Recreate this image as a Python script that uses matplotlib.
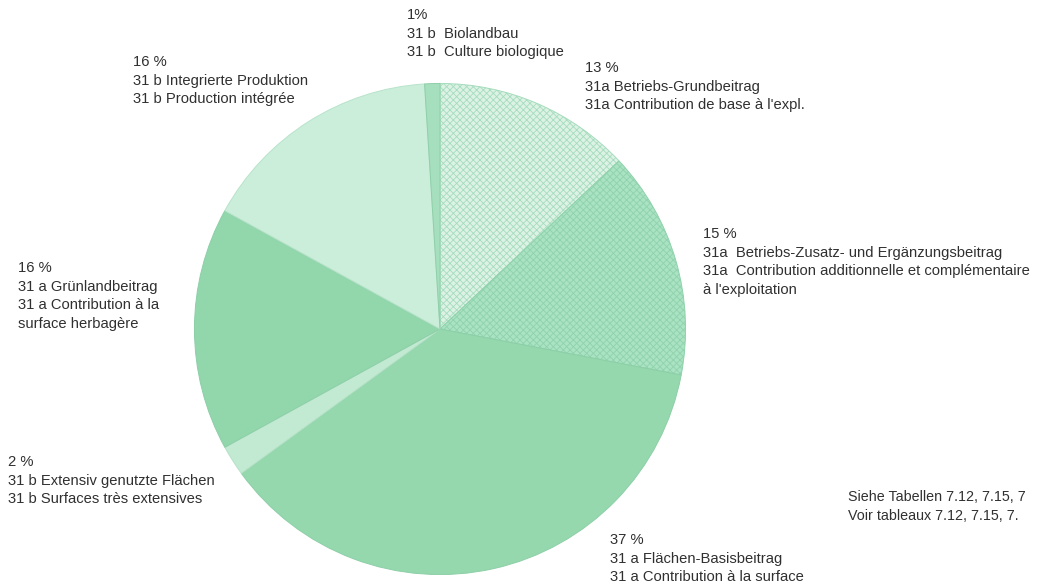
import matplotlib.pyplot as plt

plt.rcParams['font.family'] = ['Liberation Sans', 'DejaVu Sans']
plt.rcParams['hatch.linewidth'] = 0.6

# slice shares (clockwise from 12 o'clock)
shares = [13, 15, 37, 2, 16, 16, 1]
labels = [
    ["13 %", "31a Betriebs-Grundbeitrag", "31a Contribution de base à l'expl."],
    ["15 %", "31a  Betriebs-Zusatz- und Ergänzungsbeitrag",
     "31a  Contribution additionnelle et complémentaire", "à l'exploitation"],
    ["37 %", "31 a Flächen-Basisbeitrag", "31 a Contribution à la surface"],
    ["2 %", "31 b Extensiv genutzte Flächen", "31 b Surfaces très extensives"],
    ["16 %", "31 a Grünlandbeitrag", "31 a Contribution à la", "surface herbagère"],
    ["16 %", "31 b Integrierte Produktion", "31 b Production intégrée"],
    ["1%", "31 b  Biolandbau", "31 b  Culture biologique"],
]
# the source cuts these at the page edge
note = ["Siehe Tabellen 7.12, 7.15, 7", "Voir tableaux 7.12, 7.15, 7."]

colors = ['#dcf2e5', '#a9e3c3', '#95d8ae', '#c2e9d2', '#92d6ac', '#cbeedb', '#a6dfbd']
hatches = ['xxxxx', 'xxxxx', None, None, None, None, None]
edge_cols = ['#a6dcbd', '#8fd2ab', '#8ccfa7', '#b5e2c7', '#8ccfa7', '#b8e3ca', '#8fcfa9']

# label anchor (left x, first line y) in pixels
label_pos = [(585, 68), (703, 234), (610, 540), (8, 462), (18, 268), (133, 62), (407, 15)]

W, H = 1037, 584
fig = plt.figure(figsize=(W / 100, H / 100), dpi=100)
cx, cy, r = 440, 329, 248
ax = fig.add_axes([(cx - r) / W, (H - cy - r) / H, 2 * r / W, 2 * r / H])

wedges, _ = ax.pie(shares, colors=colors, startangle=90, counterclock=False,
                   radius=1, wedgeprops=dict(linewidth=0.7))
for w, h, ec in zip(wedges, hatches, edge_cols):
    w.set_edgecolor(ec)
    if h:
        w.set_hatch(h)
ax.set_xlim(-1.01, 1.01)
ax.set_ylim(-1.01, 1.01)
ax.set_aspect('equal')
ax.axis('off')

line_h = 18.6
for lines, (x, y) in zip(labels, label_pos):
    for i, t in enumerate(lines):
        fig.text(x / W, 1 - (y + i * line_h) / H, t, fontsize=10.6,
                 color='#303030', va='center', ha='left')

for i, t in enumerate(note):
    fig.text(848 / W, 1 - (497 + i * line_h) / H, t, fontsize=10.3,
             color='#303030', va='center', ha='left')

fig.savefig('out.png', dpi=100)
